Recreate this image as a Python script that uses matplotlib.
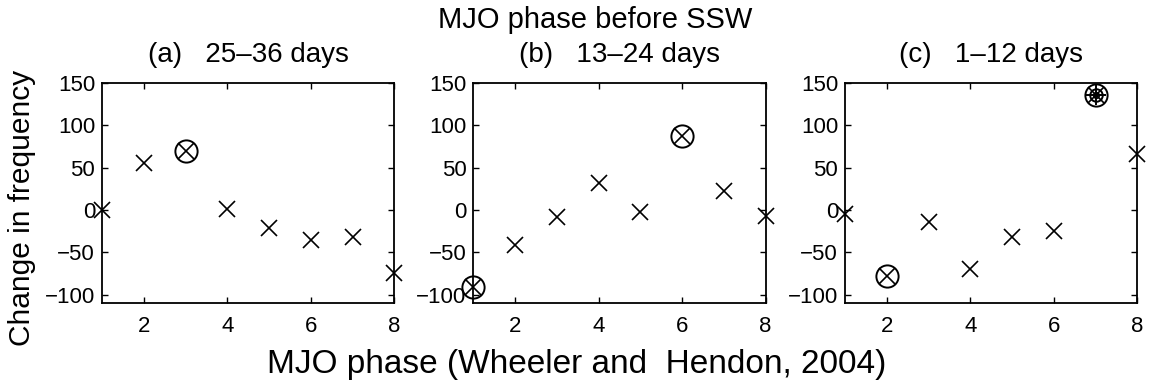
import matplotlib.pyplot as plt

plt.rcParams['font.family'] = ['Liberation Sans', 'DejaVu Sans']

phases = [1, 2, 3, 4, 5, 6, 7, 8]

# change in frequency per MJO phase for each lead window
freq_a = [0, 55, 70, 1, -21, -36, -32, -75]
freq_b = [-91, -42, -8, 32, -2, 87, 22, -7]
freq_c = [-5, -78, -14, -70, -32, -25, 136, 66]

titles = ["(a)   25\u201336 days", "(b)   13\u201324 days", "(c)   1\u201312 days"]

# phases flagged as significant (circled), and the extra-significant one
circled = [[3], [1, 6], [2, 7]]
strong = [[], [], [7]]

fig = plt.figure(figsize=(11.53, 3.89), dpi=100)
lefts = [0.0885, 0.4105, 0.7329]
width = 0.2535

for i, (freq, title) in enumerate(zip([freq_a, freq_b, freq_c], titles)):
    ax = fig.add_axes([lefts[i], 0.221, width, 0.5656])
    ax.plot(phases, freq, linestyle='none', marker='x', color='k',
            markersize=11, markeredgewidth=1.2, clip_on=False, zorder=3)
    for p in circled[i]:
        ax.plot(p, freq[p - 1], linestyle='none', marker='o', markerfacecolor='none',
                markeredgecolor='k', markersize=16, markeredgewidth=1.4,
                clip_on=False, zorder=3)
    for p in strong[i]:
        v = freq[p - 1]
        ax.plot(p, v, linestyle='none', marker='+', color='k', markersize=15,
                markeredgewidth=1.4, clip_on=False, zorder=4)
        ax.plot(p, v, linestyle='none', marker='o', markerfacecolor='none',
                markeredgecolor='k', markersize=9, markeredgewidth=1.4,
                clip_on=False, zorder=4)
        ax.plot(p, v, linestyle='none', marker='o', markerfacecolor='none',
                markeredgecolor='k', markersize=4, markeredgewidth=1.2,
                clip_on=False, zorder=4)
    ax.set_xlim(1, 8)
    ax.set_ylim(-110, 150)
    ax.set_xticks([2, 4, 6, 8])
    ax.set_yticks([-100, -50, 0, 50, 100, 150])
    ax.tick_params(direction='in', top=True, right=True, length=4,
                   width=1, labelsize=16, pad=5)
    ax.tick_params(axis='x', pad=9)
    for s in ax.spines.values():
        s.set_linewidth(1.3)
    ax.set_title(title, fontsize=20, pad=15)

fig.text(0.516, 0.948, "MJO phase before SSW", ha='center', va='center', fontsize=21)
fig.text(0.5, 0.062, "MJO phase (Wheeler and  Hendon, 2004)", ha='center',
         va='center', fontsize=24)
fig.text(0.019, 0.465, "Change in frequency", ha='center', va='center',
         rotation=90, fontsize=21.5)

fig.savefig("out.png", dpi=100)
